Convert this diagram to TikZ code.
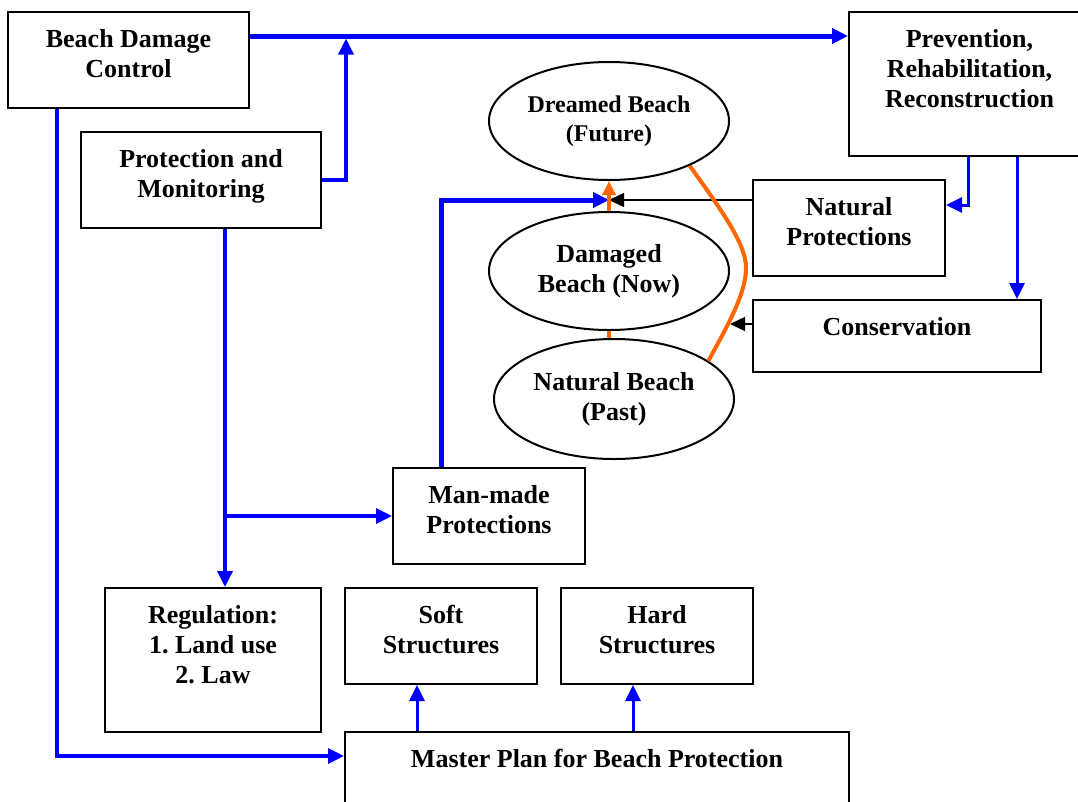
\documentclass[tikz,border=0pt]{standalone}
\usepackage{fontspec}
\setmainfont{Liberation Serif}
\usetikzlibrary{positioning,shapes.geometric,arrows.meta}
\definecolor{beachorange}{RGB}{255,102,0}
\frenchspacing
\tikzset{
  box/.style={draw, line width=2pt, rectangle, align=center, inner sep=0pt,
    font=\fontsize{26}{30}\selectfont\bfseries, text depth=13pt},
  beach/.style={draw, line width=2pt, ellipse, align=center, inner sep=0pt,
    minimum width=240pt, minimum height=118pt,
    font=\fontsize{26}{30}\selectfont\bfseries},
  flow/.style={blue, line width=3.5pt, -{Triangle[length=16pt,width=15pt]}},
  link/.style={black, line width=1.5pt, -{Triangle[length=15pt,width=14pt]}},
  past/.style={beachorange, line width=4pt}
}
\begin{document}
\begin{tikzpicture}[x=1pt,y=-1pt]
\useasboundingbox (0,0) rectangle (1078,801);
% boxes
\node[box, minimum width=241pt, minimum height=96pt] (damage) at (128.5,60) {Beach Damage\\Control};
\node[box, minimum width=240pt, minimum height=96pt] (monitor) at (201,180) {Protection and\\Monitoring};
\node[box, minimum width=241pt, minimum height=144pt, text depth=32pt] (prevent) at (969.5,84) {Prevention,\\Rehabilitation,\\Reconstruction};
\node[box, minimum width=192pt, minimum height=96pt] (natprot) at (849,228) {Natural\\Protections};
\node[box, minimum width=288pt, minimum height=72pt, text depth=20pt] (conserv) at (897,336) {Conservation};
\node[box, minimum width=192pt, minimum height=96pt] (manmade) at (489,516) {Man-made\\Protections};
\node[box, minimum width=216pt, minimum height=144pt, text depth=32pt] (regul) at (213,660) {Regulation:\\1. Land use\\2. Law};
\node[box, minimum width=192pt, minimum height=96pt] (soft) at (441,636) {Soft\\Structures};
\node[box, minimum width=192pt, minimum height=96pt] (hard) at (657,636) {Hard\\Structures};
\node[box, minimum width=504pt, minimum height=100pt, text depth=48pt] (master) at (597,782) {Master Plan for Beach Protection};
% beaches
\node[beach, font=\fontsize{24}{29}\selectfont\bfseries] (dreamed) at (609,121) {Dreamed Beach\\(Future)};
\node[beach] (damaged) at (609,271) {Damaged\\Beach (Now)};
\node[beach, minimum height=120pt] (natural) at (614,399) {Natural Beach\\(Past)};
\coordinate (meet) at (609,200);
% blue flows
\draw[flow, line width=5pt] ([yshift=24pt]damage.east) coordinate (d1) -- (d1 -| prevent.west);
\draw[flow, shorten >=2.5pt] (monitor.east) -| ([xshift=24pt]monitor.east |- d1);
\draw[flow] ([xshift=-71.5pt]damage.south) |- ([yshift=26pt]master.west);
\draw[flow] ([xshift=24pt]monitor.south) coordinate (m1) -- (m1 |- regul.north);
\draw[flow] (m1 |- manmade.west) -- (manmade.west);
\draw[flow, line width=5pt] ([xshift=-48pt]manmade.north) |- (meet);
\draw[flow, line width=3pt] ([xshift=-1.5pt]prevent.south) |- ([yshift=23pt]natprot.east);
\draw[flow, line width=3pt] ([xshift=47.5pt]prevent.south) coordinate (p2) -- (p2 |- conserv.north);
\draw[flow, line width=3pt] ([xshift=-24pt]soft.south |- master.north) -- ([xshift=-24pt]soft.south);
\draw[flow, line width=3pt] ([xshift=-24pt]hard.south |- master.north) -- ([xshift=-24pt]hard.south);
% black links
\draw[link] ([yshift=28pt]natprot.west) -- (meet);
\draw[link] ([yshift=12pt]conserv.west) -- ++(-22,0);
% orange time line
\draw[past, -{Triangle[length=14pt,width=13pt]}] (damaged.north) -- (dreamed.south);
\draw[past] (damaged.south) -- (damaged.south |- natural.north);
\draw[past] (dreamed.-29) .. controls (725,215) and (746,245) .. (746,268) .. controls (746,295) and (725,330) .. (natural.22);
\end{tikzpicture}
\end{document}
